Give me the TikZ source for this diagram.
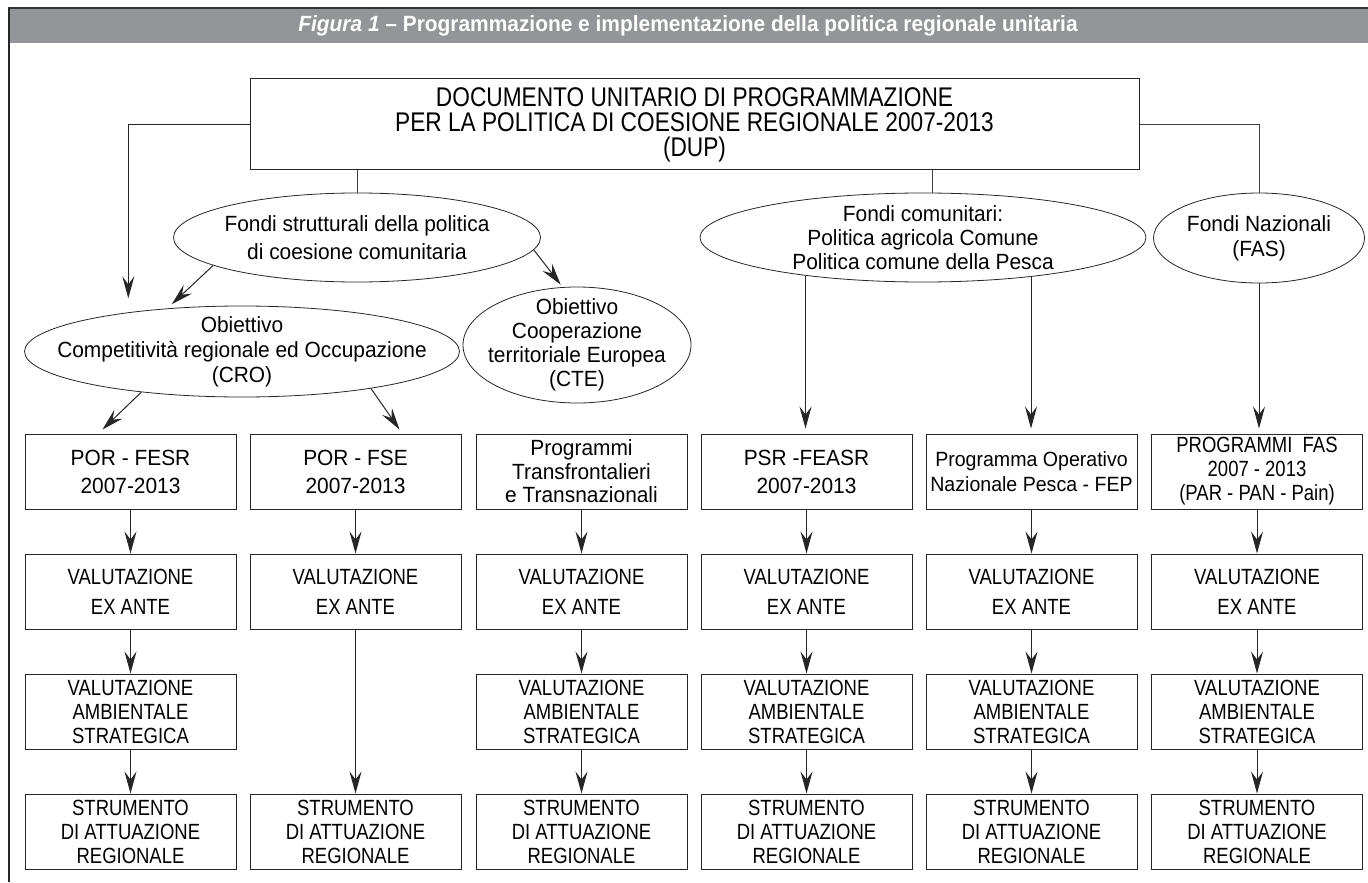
\documentclass[tikz,border=0pt]{standalone}
\usepackage{fontspec}
\setmainfont{Liberation Sans}[FakeStretch=0.95]
\newfontfamily\capsfont{Liberation Sans}[FakeStretch=0.84]
\usetikzlibrary{shapes.geometric,arrows.meta}
\definecolor{bargray}{RGB}{147,149,152}

\begin{document}
\begin{tikzpicture}[x=0.5pt,y=-0.5pt,
  box/.style={draw=black!85, line width=0.5pt, minimum width=105.5pt, minimum height=37.5pt,
    inner sep=0pt, align=center, font=\fontsize{11}{12}\selectfont},
  caps/.style={font=\capsfont\fontsize{11}{12}\selectfont},
  twoline/.style={font=\fontsize{11}{14}\selectfont},
  ell/.style={ellipse, draw=black!85, line width=0.4pt, inner sep=0pt},
  lab/.style={align=center, font=\fontsize{11}{12.5}\selectfont},
  arr/.style={draw=black!85, line width=0.5pt, -{Stealth[length=11pt,width=6pt,inset=4pt]}},
  link/.style={draw=black!75, line width=0.5pt}]
  \useasboundingbox (0,0) rectangle (1368,882);
  % title bar and frame
  \fill[bargray] (9,9) rectangle (1368,43);
  \draw[black!80, line width=1pt] (8,8) -- (1368,8);
  \draw[black!85, line width=0.8pt] (9,8) -- (9,882);
  \node[text=white, font=\bfseries\fontsize{11}{13}\selectfont] (title) at (688,26)
    {\textit{Figura 1} – Programmazione e implementazione della politica regionale unitaria};

  \node[box, minimum width=444.5pt, minimum height=45.5pt, font=\capsfont\fontsize{13.5}{12.5}\selectfont] (dup) at (694.5,124.5)
    {DOCUMENTO UNITARIO DI PROGRAMMAZIONE\\PER LA POLITICA DI COESIONE REGIONALE 2007-2013\\(DUP)};

  % funds
  \node[ell, minimum width=183.5pt, minimum height=44.5pt,
    label={[lab, font=\fontsize{11}{14}\selectfont]center:{Fondi strutturali della politica\\di coesione comunitaria}}] (fs) at (357,237.5) {};
  \node[ell, minimum width=223pt, minimum height=44.5pt,
    label={[lab, font=\fontsize{11}{12}\selectfont]center:{Fondi comunitari:\\Politica agricola Comune\\Politica comune della Pesca}}] (fc) at (923,237.5) {};
  \node[ell, minimum width=105.5pt, minimum height=45pt,
    label={[lab]center:{Fondi Nazionali\\(FAS)}}] (fas) at (1259,238) {};
  \node[ell, minimum width=217.5pt, minimum height=45.5pt,
    label={[lab]center:{Obiettivo\\Competitività regionale ed Occupazione\\(CRO)}}] (cro) at (242,351.5) {};
  \node[ell, minimum width=114pt, minimum height=58pt,
    label={[lab, font=\fontsize{11}{12}\selectfont]center:{Obiettivo\\Cooperazione\\territoriale Europea\\(CTE)}}] (cte) at (577,345) {};

  % programmes
  \node[box, twoline] (p1) at (130.5,471.5) {POR - FESR\\2007-2013};
  \node[box, twoline] (p2) at (355.5,471.5) {POR - FSE\\2007-2013};
  \node[box, font=\fontsize{11}{11.75}\selectfont] (p3) at (581.5,471.5) {Programmi\\Transfrontalieri\\e Transnazionali};
  \node[box, twoline] (p4) at (806.5,471.5) {PSR -FEASR\\2007-2013};
  \node[box, font=\fontsize{10.3}{12.5}\selectfont] (p5) at (1031.5,471.5) {Programma Operativo\\Nazionale Pesca - FEP};
  \node[box, caps] (p6) at (1257,471.5) {PROGRAMMI\ \ FAS\\2007 - 2013\\(PAR - PAN - Pain)};

  \foreach \i/\x in {1/130.5,2/355.5,3/581.5,4/806.5,5/1031.5,6/1257} {
    \node[box, font=\capsfont\fontsize{11}{15}\selectfont] (e\i) at (\x,591.5) {VALUTAZIONE\\EX ANTE};
    \node[box, caps] (s\i) at (\x,831.5) {STRUMENTO\\DI ATTUAZIONE\\REGIONALE};
    \draw[arr] (p\i) -- (e\i);
  }
  \foreach \i/\x in {1/130.5,3/581.5,4/806.5,5/1031.5,6/1257} {
    \node[box, caps] (v\i) at (\x,711.5) {VALUTAZIONE\\AMBIENTALE\\STRATEGICA};
    \draw[arr] (e\i) -- (v\i);
    \draw[arr] (v\i) -- (s\i);
  }
  \draw[arr] (e2) -- (s2);

  % connectors from the top
  \coordinate (fctop) at ([xshift=4.5pt]fc.north);
  \draw[arr] (dup.west) -| ([yshift=7pt]cro.161);
  \draw[link] (dup.east) -| (fas.north);
  \draw[link] (dup.south -| fs.north) -- (fs.north);
  \draw[link] (fctop |- dup.south) -- (fctop);
  \draw[arr, shorten >=3pt] (fs.191) -- (cro.150);
  \draw[arr, shorten >=1.5pt] (fs.-4) -- (cte.104);
  \draw[arr] (cro.202) -- ([xshift=-14pt,yshift=2pt]p1.north);
  \draw[arr] (cro.-16.5) -- ([xshift=22pt,yshift=2pt]p2.north);
  \draw[arr, shorten >=2.5pt] (fc.198) -- (fc.198 |- p4.north);
  \draw[arr, shorten >=2.5pt] (fc.-20.7) -- (fc.-20.7 |- p5.north);
  \draw[arr, shorten >=2.5pt] (fas.south) -- (fas.south |- p6.north);
\end{tikzpicture}
\end{document}
